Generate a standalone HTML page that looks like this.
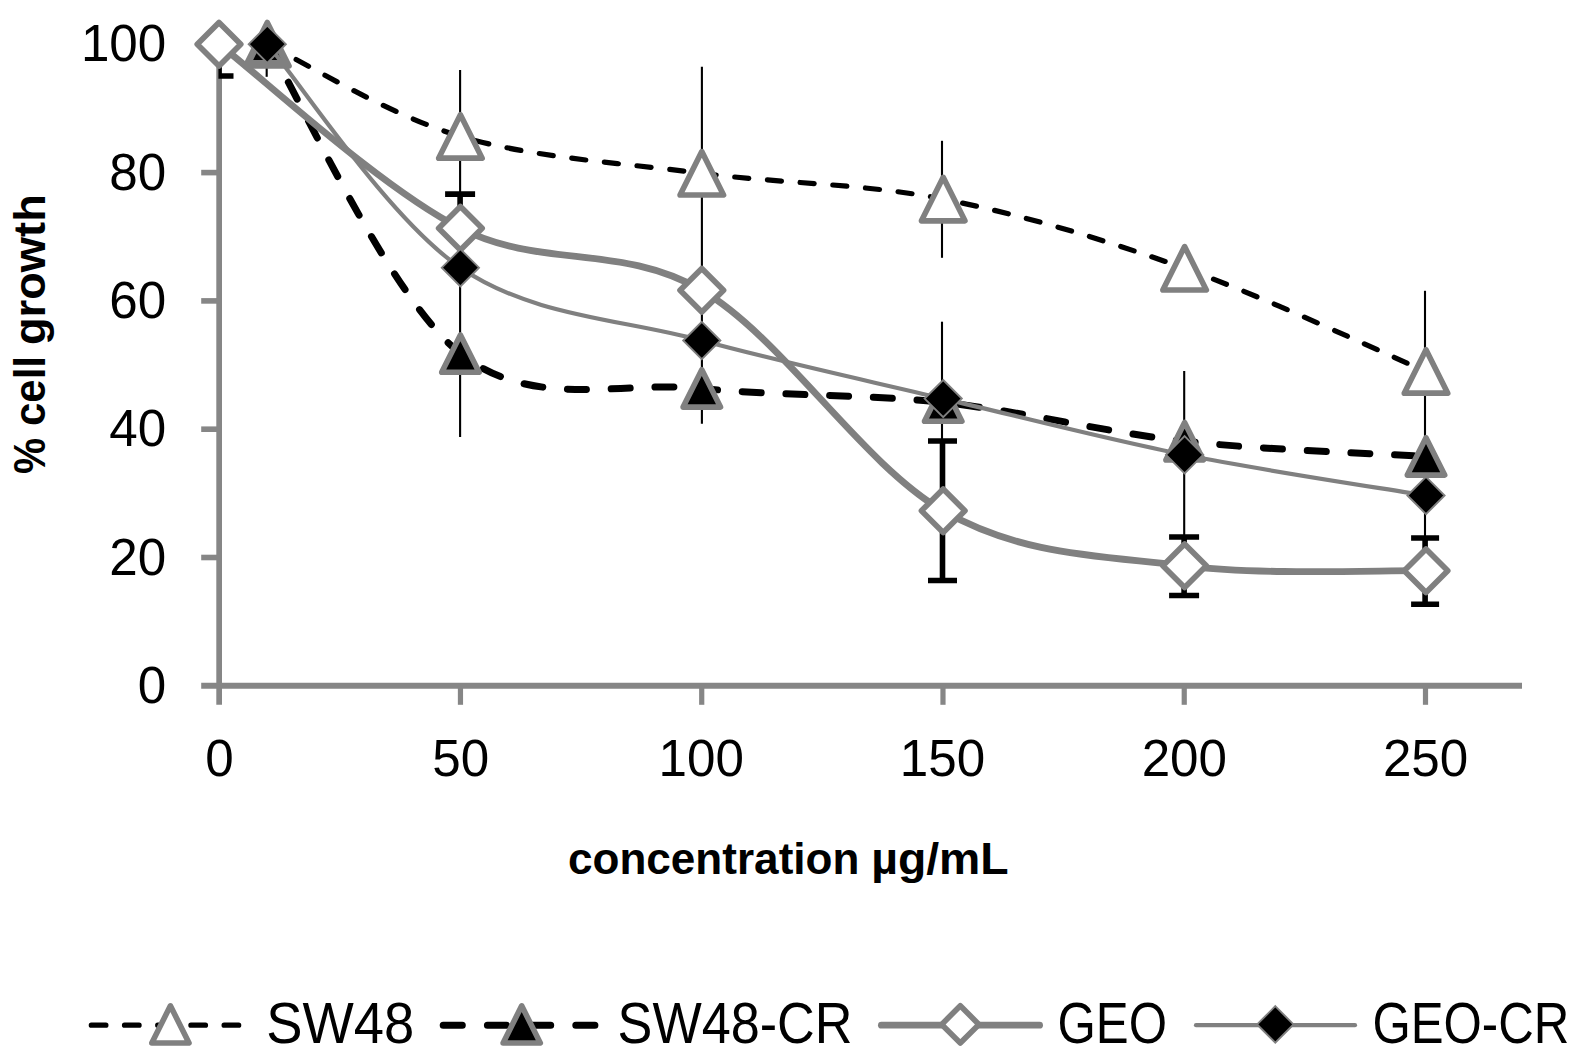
<!DOCTYPE html><html><head><meta charset="utf-8"><title>chart</title><style>html,body{margin:0;padding:0;background:#fff;overflow:hidden}svg{display:block}text{font-family:"Liberation Sans",sans-serif;fill:#000;font-kerning:none}</style></head><body>
<svg width="1578" height="1063" viewBox="0 0 1578 1063">
<rect width="1578" height="1063" fill="#fff"/>
<defs><clipPath id="pa"><rect x="218.4" y="44.3" width="1400" height="700"/></clipPath></defs>
<g id="axes"><path d="M219.15 44.3V704.8" stroke="#868686" stroke-width="5.7" fill="none"/><path d="M201.2 685.8H1522" stroke="#868686" stroke-width="6" fill="none"/><path d="M201.2 557.50H219" stroke="#868686" stroke-width="5.6" fill="none"/><path d="M201.2 429.20H219" stroke="#868686" stroke-width="5.6" fill="none"/><path d="M201.2 300.90H219" stroke="#868686" stroke-width="5.6" fill="none"/><path d="M201.2 172.60H219" stroke="#868686" stroke-width="5.6" fill="none"/><path d="M201.2 44.30H219" stroke="#868686" stroke-width="5.6" fill="none"/><path d="M460.46 685.8V704.8" stroke="#868686" stroke-width="5.2" fill="none"/><path d="M701.72 685.8V704.8" stroke="#868686" stroke-width="5.2" fill="none"/><path d="M942.98 685.8V704.8" stroke="#868686" stroke-width="5.2" fill="none"/><path d="M1184.24 685.8V704.8" stroke="#868686" stroke-width="5.2" fill="none"/><path d="M1425.50 685.8V704.8" stroke="#868686" stroke-width="5.2" fill="none"/></g>
<g></g>
<g id="errthin"><line x1="266.68" y1="60.00" x2="266.68" y2="76.80" stroke="#000" stroke-width="2.1"/><line x1="460.10" y1="70.00" x2="460.10" y2="437.00" stroke="#000" stroke-width="2.1"/><line x1="701.90" y1="66.70" x2="701.90" y2="423.70" stroke="#000" stroke-width="2.1"/><line x1="942.00" y1="140.80" x2="942.00" y2="257.80" stroke="#000" stroke-width="2.1"/><line x1="942.00" y1="321.70" x2="942.00" y2="440.00" stroke="#000" stroke-width="2.1"/><line x1="1184.20" y1="371.00" x2="1184.20" y2="537.00" stroke="#000" stroke-width="2.1"/><line x1="1425.00" y1="290.80" x2="1425.00" y2="538.00" stroke="#000" stroke-width="2.1"/></g>
<path d="M267.28 44.20 C299.47 59.57 387.98 114.88 460.40 136.40 C532.82 157.92 621.33 162.85 701.80 173.30 C782.27 183.75 862.73 183.27 943.20 199.10 C1023.67 214.93 1104.13 239.58 1184.60 268.30 C1265.07 297.02 1385.77 354.22 1426.00 371.40" fill="none" stroke="#000" stroke-width="5.2" stroke-linecap="round" stroke-dasharray="14.1 18.7"/>
<polygon points="267.28,22.45 289.03,65.95 245.53,65.95" fill="#fff" stroke="#808080" stroke-width="5.6" stroke-linejoin="round"/>
<polygon points="460.40,114.65 482.15,158.15 438.65,158.15" fill="#fff" stroke="#808080" stroke-width="5.6" stroke-linejoin="round"/>
<polygon points="701.80,151.55 723.55,195.05 680.05,195.05" fill="#fff" stroke="#808080" stroke-width="5.6" stroke-linejoin="round"/>
<polygon points="943.20,177.35 964.95,220.85 921.45,220.85" fill="#fff" stroke="#808080" stroke-width="5.6" stroke-linejoin="round"/>
<polygon points="1184.60,246.55 1206.35,290.05 1162.85,290.05" fill="#fff" stroke="#808080" stroke-width="5.6" stroke-linejoin="round"/>
<polygon points="1426.00,349.65 1447.75,393.15 1404.25,393.15" fill="#fff" stroke="#808080" stroke-width="5.6" stroke-linejoin="round"/>
<path d="M267.28 44.20 C299.47 95.77 387.98 296.23 460.40 353.60 C532.82 410.97 621.33 380.25 701.80 388.40 C782.27 396.55 862.73 393.70 943.20 402.50 C1023.67 411.30 1104.13 432.22 1184.60 441.20 C1265.07 450.18 1385.77 453.87 1426.00 456.40" fill="none" stroke="#000" stroke-width="7" stroke-linecap="round" stroke-dasharray="19 24.75"/>
<polygon points="267.28,25.50 285.98,62.90 248.58,62.90" fill="#000" stroke="#808080" stroke-width="5.6" stroke-linejoin="round"/>
<polygon points="460.40,334.90 479.10,372.30 441.70,372.30" fill="#000" stroke="#808080" stroke-width="5.6" stroke-linejoin="round"/>
<polygon points="701.80,369.70 720.50,407.10 683.10,407.10" fill="#000" stroke="#808080" stroke-width="5.6" stroke-linejoin="round"/>
<polygon points="943.20,383.80 961.90,421.20 924.50,421.20" fill="#000" stroke="#808080" stroke-width="5.6" stroke-linejoin="round"/>
<polygon points="1184.60,422.50 1203.30,459.90 1165.90,459.90" fill="#000" stroke="#808080" stroke-width="5.6" stroke-linejoin="round"/>
<polygon points="1426.00,437.70 1444.70,475.10 1407.30,475.10" fill="#000" stroke="#808080" stroke-width="5.6" stroke-linejoin="round"/>
<g clip-path="url(#pa)"><path d="M219.00 12.00V76.00M204.50 76.00H233.50" stroke="#000" stroke-width="5.6" fill="none"/><path d="M460.10 194.10V250.00M445.10 194.10H475.10" stroke="#000" stroke-width="5.6" fill="none"/><path d="M942.50 441.00V580.50M928.00 441.00H957.00M928.00 580.50H957.00" stroke="#000" stroke-width="5.6" fill="none"/><path d="M1184.10 537.00V595.50M1169.10 537.00H1199.10M1169.10 595.50H1199.10" stroke="#000" stroke-width="5.6" fill="none"/><path d="M1425.10 538.00V604.30M1411.10 538.00H1439.10M1411.10 604.30H1439.10" stroke="#000" stroke-width="5.6" fill="none"/></g>
<path d="M219.00 44.20 C259.23 74.88 379.93 187.28 460.40 228.30 C540.87 269.32 621.33 243.22 701.80 290.30 C782.27 337.38 862.73 464.88 943.20 510.80 C1023.67 556.72 1104.13 555.82 1184.60 565.80 C1265.07 575.78 1385.77 569.88 1426.00 570.70" fill="none" stroke="#808080" stroke-width="6.8" stroke-linecap="round"/>
<polygon points="219.00,22.45 240.75,44.20 219.00,65.95 197.25,44.20" fill="#fff" stroke="#808080" stroke-width="5.7" stroke-linejoin="round"/>
<polygon points="460.40,206.55 482.15,228.30 460.40,250.05 438.65,228.30" fill="#fff" stroke="#808080" stroke-width="5.7" stroke-linejoin="round"/>
<polygon points="701.80,268.55 723.55,290.30 701.80,312.05 680.05,290.30" fill="#fff" stroke="#808080" stroke-width="5.7" stroke-linejoin="round"/>
<polygon points="943.20,489.05 964.95,510.80 943.20,532.55 921.45,510.80" fill="#fff" stroke="#808080" stroke-width="5.7" stroke-linejoin="round"/>
<polygon points="1184.60,544.05 1206.35,565.80 1184.60,587.55 1162.85,565.80" fill="#fff" stroke="#808080" stroke-width="5.7" stroke-linejoin="round"/>
<polygon points="1426.00,548.95 1447.75,570.70 1426.00,592.45 1404.25,570.70" fill="#fff" stroke="#808080" stroke-width="5.7" stroke-linejoin="round"/>
<path d="M267.28 44.20 C299.47 81.45 387.98 218.32 460.40 267.70 C532.82 317.08 621.33 318.68 701.80 340.50 C782.27 362.32 862.73 379.55 943.20 398.60 C1023.67 417.65 1104.13 438.65 1184.60 454.80 C1265.07 470.95 1385.77 488.72 1426.00 495.50" fill="none" stroke="#808080" stroke-width="4.2" stroke-linecap="round"/>
<polygon points="267.28,25.60 285.88,44.20 267.28,62.80 248.68,44.20" fill="#000" stroke="#808080" stroke-width="1.9" stroke-linejoin="miter"/>
<polygon points="460.40,249.10 479.00,267.70 460.40,286.30 441.80,267.70" fill="#000" stroke="#808080" stroke-width="1.9" stroke-linejoin="miter"/>
<polygon points="701.80,321.90 720.40,340.50 701.80,359.10 683.20,340.50" fill="#000" stroke="#808080" stroke-width="1.9" stroke-linejoin="miter"/>
<polygon points="943.20,380.00 961.80,398.60 943.20,417.20 924.60,398.60" fill="#000" stroke="#808080" stroke-width="1.9" stroke-linejoin="miter"/>
<polygon points="1184.60,436.20 1203.20,454.80 1184.60,473.40 1166.00,454.80" fill="#000" stroke="#808080" stroke-width="1.9" stroke-linejoin="miter"/>
<polygon points="1426.00,476.90 1444.60,495.50 1426.00,514.10 1407.40,495.50" fill="#000" stroke="#808080" stroke-width="1.9" stroke-linejoin="miter"/>
<text x="137.83" y="702.80" font-size="52.4" textLength="28.47" lengthAdjust="spacingAndGlyphs">0</text>
<text x="109.36" y="574.50" font-size="52.4" textLength="56.93" lengthAdjust="spacingAndGlyphs">20</text>
<text x="109.36" y="446.20" font-size="52.4" textLength="56.93" lengthAdjust="spacingAndGlyphs">40</text>
<text x="109.36" y="317.90" font-size="52.4" textLength="56.93" lengthAdjust="spacingAndGlyphs">60</text>
<text x="109.36" y="189.60" font-size="52.4" textLength="56.93" lengthAdjust="spacingAndGlyphs">80</text>
<text x="80.90" y="61.30" font-size="52.4" textLength="85.40" lengthAdjust="spacingAndGlyphs">100</text>
<text x="205.37" y="776.00" font-size="52.4" textLength="28.47" lengthAdjust="spacingAndGlyphs">0</text>
<text x="432.37" y="776.00" font-size="52.4" textLength="56.93" lengthAdjust="spacingAndGlyphs">50</text>
<text x="658.47" y="776.00" font-size="52.4" textLength="85.40" lengthAdjust="spacingAndGlyphs">100</text>
<text x="899.73" y="776.00" font-size="52.4" textLength="85.40" lengthAdjust="spacingAndGlyphs">150</text>
<text x="1141.66" y="776.00" font-size="52.4" textLength="85.40" lengthAdjust="spacingAndGlyphs">200</text>
<text x="1382.92" y="776.00" font-size="52.4" textLength="85.40" lengthAdjust="spacingAndGlyphs">250</text>
<text x="567.98" y="874.20" font-size="44.6" font-weight="bold" textLength="291.45" lengthAdjust="spacingAndGlyphs">concentration</text>
<text x="871.19" y="874.20" font-size="44.6" font-weight="bold" textLength="137.45" lengthAdjust="spacingAndGlyphs">µg/mL</text>
<text transform="translate(45.20 473.00) rotate(-90)" x="-1.02" y="0" font-size="44.6" font-weight="bold" textLength="36.18" lengthAdjust="spacingAndGlyphs">%</text>
<text transform="translate(45.20 473.00) rotate(-90)" x="47.07" y="0" font-size="44.6" font-weight="bold" textLength="69.91" lengthAdjust="spacingAndGlyphs">cell</text>
<text transform="translate(45.20 473.00) rotate(-90)" x="127.94" y="0" font-size="44.6" font-weight="bold" textLength="150.86" lengthAdjust="spacingAndGlyphs">growth</text>
<path d="M91.3 1025.2 H252" fill="none" stroke="#000" stroke-width="5.2" stroke-linecap="round" stroke-dasharray="14.6 18.6"/>
<polygon points="170.40,1005.80 189.00,1043.00 151.80,1043.00" fill="#fff" stroke="#808080" stroke-width="5.6" stroke-linejoin="round"/>
<path d="M443.2 1025.2 H603" fill="none" stroke="#000" stroke-width="7" stroke-linecap="round" stroke-dasharray="19.1 25.1"/>
<polygon points="521.70,1005.80 540.30,1043.00 503.10,1043.00" fill="#000" stroke="#808080" stroke-width="5.6" stroke-linejoin="round"/>
<path d="M881.4 1025.2 H1039.6" fill="none" stroke="#808080" stroke-width="6.8" stroke-linecap="round"/>
<polygon points="960.30,1005.80 978.90,1024.40 960.30,1043.00 941.70,1024.40" fill="#fff" stroke="#808080" stroke-width="5.6" stroke-linejoin="round"/>
<path d="M1196 1025.2 H1355" fill="none" stroke="#808080" stroke-width="4.2" stroke-linecap="round"/>
<polygon points="1275.30,1006.20 1293.50,1024.40 1275.30,1042.60 1257.10,1024.40" fill="#000" stroke="#808080" stroke-width="1.9" stroke-linejoin="miter"/>
<text x="266.30" y="1042.80" font-size="56.5" textLength="148.04" lengthAdjust="spacingAndGlyphs">SW48</text>
<text x="617.60" y="1042.80" font-size="56.5" textLength="234.85" lengthAdjust="spacingAndGlyphs">SW48-CR</text>
<text x="1057.54" y="1042.80" font-size="56.5" textLength="109.53" lengthAdjust="spacingAndGlyphs">GEO</text>
<text x="1372.54" y="1042.80" font-size="56.5" textLength="196.77" lengthAdjust="spacingAndGlyphs">GEO-CR</text>
</svg></body></html>
